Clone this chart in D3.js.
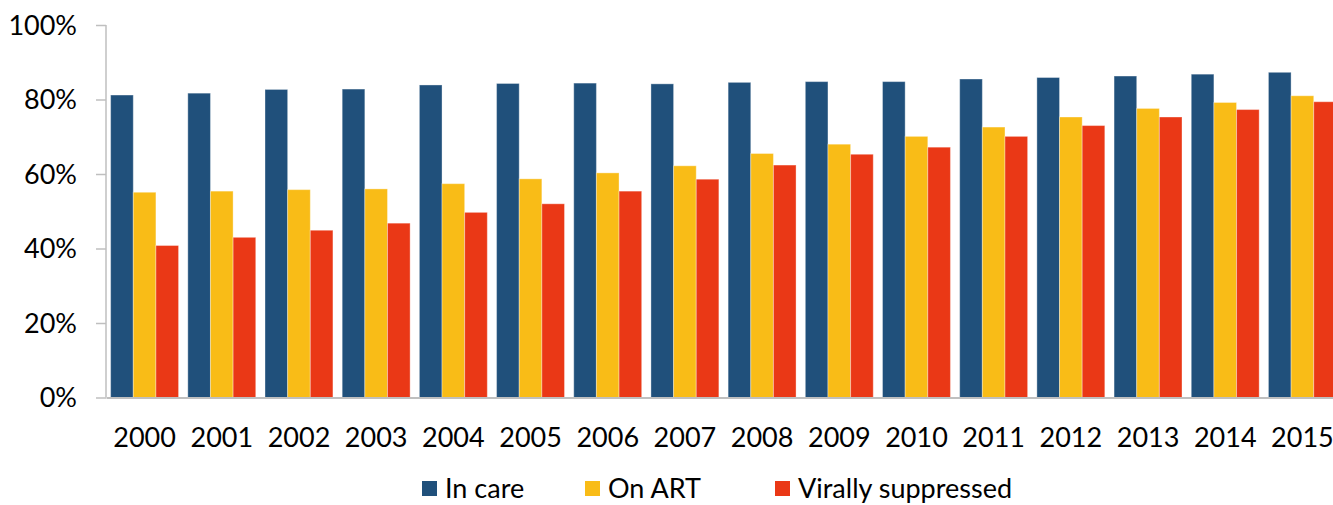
<!DOCTYPE html>
<html>
<head>
<meta charset="utf-8">
<script src="https://cdn.jsdelivr.net/npm/d3@7"></script>
<style>
  body { margin: 0; background: #fff; }
  text { font-family: Lato, "Open Sans", sans-serif; fill: #000; }
</style>
</head>
<body>
<div id="chart"></div>
<script>
// chart data
let years = ["2000", "2001", "2002", "2003", "2004", "2005", "2006", "2007",
             "2008", "2009", "2010", "2011", "2012", "2013", "2014", "2015"];
let seriesNames = ["In care", "On ART", "Virally suppressed"];
let inCare = [81.2, 81.7, 82.7, 82.8, 83.9, 84.3, 84.4, 84.2, 84.6, 84.8, 84.8, 85.5, 85.9, 86.3, 86.8, 87.3];
let onArt = [55.1, 55.4, 55.8, 56.0, 57.4, 58.7, 60.3, 62.2, 65.5, 68.0, 70.1, 72.6, 75.3, 77.6, 79.2, 81.0];
let suppressed = [40.8, 43.0, 44.9, 46.8, 49.7, 52.0, 55.4, 58.6, 62.4, 65.3, 67.2, 70.1, 73.0, 75.3, 77.3, 79.4];
let yTicks = [0, 20, 40, 60, 80, 100];
let colors = ["#20507b", "#f9bc17", "#ea3816"];

let width = 1333, height = 505;
let svg = d3.select("#chart")
      .append("svg")
      .attr("width", width)
      .attr("height", height);

let x0 = d3.scaleBand()
      .domain(years)
      .range([106, 1341])
      .paddingInner(0.12)
      .paddingOuter(0.06);

let x1 = d3.scaleBand()
      .domain(seriesNames)
      .range([0, x0.bandwidth()]);

let y = d3.scaleLinear()
      .domain([0, 100])
      .range([397.5, 25]);

let rows = years.map(function(yr, i) {
  return {year: yr, values: [inCare[i], onArt[i], suppressed[i]]};
});

// bars
let group = svg.selectAll(".yr")
      .data(rows)
      .enter().append("g")
      .attr("class", "yr")
      .attr("transform", function(d) { return "translate(" + x0(d.year) + ",0)"; });

group.selectAll("rect")
    .data(function(d) { return d.values.map(function(v, k) { return {k: k, v: v}; }); })
    .enter().append("rect")
    .attr("x", function(d) { return x1(seriesNames[d.k]); })
    .attr("width", x1.bandwidth())
    .attr("y", function(d) { return y(d.v); })
    .attr("height", function(d) { return y(0) - y(d.v); })
    .attr("fill", function(d) { return colors[d.k]; })
    .attr("stroke", "#ffffff")
    .attr("stroke-opacity", 0.35)
    .attr("stroke-width", 1);

// y axis
let yAxis = svg.append("g")
      .attr("transform", "translate(106,0)")
      .call(d3.axisLeft(y)
              .tickValues(yTicks)
              .tickSize(10)
              .tickPadding(19)
              .tickFormat(function(d) { return d + "%"; }));
yAxis.select(".domain").attr("stroke", "#bfbfbf").attr("stroke-width", 1.5)
     .attr("d", "M0," + y(100) + "V" + y(0));
yAxis.selectAll(".tick line").attr("stroke", "#bfbfbf").attr("stroke-width", 1.5);
yAxis.selectAll("text").style("font-size", "27px").attr("dy", "0.35em");

// x axis
let xAxis = svg.append("g")
      .attr("transform", "translate(0," + y(0) + ")")
      .call(d3.axisBottom(x0).tickSize(0).tickPadding(30));
xAxis.select(".domain").attr("stroke", "#bfbfbf").attr("stroke-width", 2);
xAxis.selectAll("text").style("font-size", "27px");

// legend
let legendX = [422, 585, 775];
let legend = svg.selectAll(".legend")
      .data(seriesNames)
      .enter().append("g")
      .attr("class", "legend")
      .attr("transform", function(d, i) { return "translate(" + legendX[i] + ",481)"; });

legend.append("rect")
    .attr("width", 15)
    .attr("height", 15)
    .attr("fill", function(d, i) { return colors[i]; });

legend.append("text")
    .attr("x", 23)
    .attr("y", 8)
    .attr("dy", "0.35em")
    .style("font-size", "27px")
    .text(function(d) { return d; });
</script>
</body>
</html>
